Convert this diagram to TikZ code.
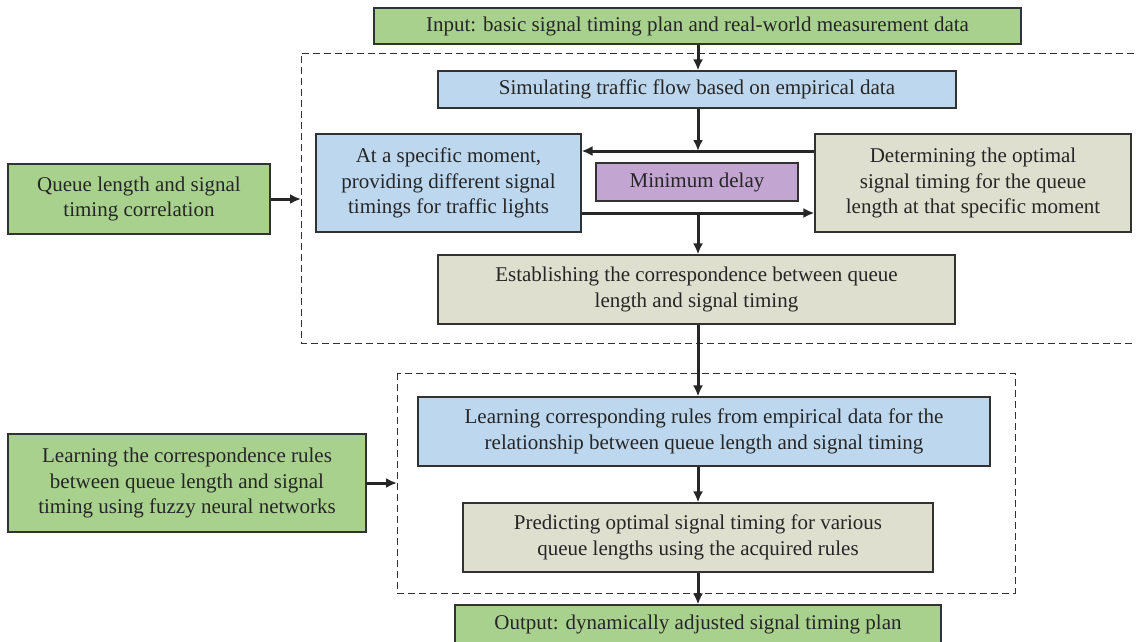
\documentclass[tikz,border=0pt]{standalone}
\usepackage{fontspec}
\setmainfont{Liberation Serif}
\usetikzlibrary{arrows.meta,positioning}
\definecolor{boxgreen}{RGB}{169,209,142}
\definecolor{boxblue}{RGB}{189,215,238}
\definecolor{boxgray}{RGB}{222,223,207}
\definecolor{boxpurple}{RGB}{194,165,209}
\definecolor{edgegray}{RGB}{50,50,50}

\begin{document}
\begin{tikzpicture}[x=1pt,y=-1pt,
		stepbox/.style={draw=edgegray, line width=1.1pt, align=center, inner sep=0pt,
			text=black!85, font=\fontsize{21}{25.5}\selectfont},
		greenbox/.style={stepbox, fill=boxgreen},
		bluebox/.style={stepbox, fill=boxblue},
		graybox/.style={stepbox, fill=boxgray},
		purplebox/.style={stepbox, fill=boxpurple},
		flow/.style={->, draw=black!85, line width=3pt},
		frame/.style={draw=edgegray, line width=1pt, dash pattern=on 7pt off 4pt},
		>={Latex[length=11pt,width=10pt]}]
	\useasboundingbox (0,0) rectangle (1136,641);
	% dashed groups
	\coordinate (frameA) at (301,53);
	\coordinate (frameB) at (397,373);
	\draw[frame] (1145,53) -- (frameA) -- (301,343) -- (1145,343);
	\draw[frame] (frameB) rectangle (1015,593);
	\coordinate (spine) at (698,0);
	% boxes
	\node[greenbox, minimum width=647pt, minimum height=36pt] (input) at (697.5,26)
		{Input: basic signal timing plan and real-world measurement data};
	\node[bluebox, minimum width=518pt, minimum height=37pt] (sim) at (697,89.5)
		{Simulating traffic flow based on empirical data};
	\node[bluebox, minimum width=265pt, minimum height=98pt] (moment) at (448.5,183)
		{At a specific moment,\\ providing different signal\\ timings for traffic lights};
	\node[purplebox, minimum width=202pt, minimum height=38pt] (mindelay) at (697,182)
		{Minimum delay};
	\node[graybox, minimum width=316pt, minimum height=98pt] (optimal) at (973,183)
		{Determining the optimal\\ signal timing for the queue\\ length at that specific moment};
	\node[graybox, minimum width=517pt, minimum height=69pt] (establish) at (696.5,289.5)
		{Establishing the correspondence between queue\\ length and signal timing};
	\node[greenbox, minimum width=262pt, minimum height=70pt] (corr) at (139,199)
		{Queue length and signal\\ timing correlation};
	\node[bluebox, minimum width=572pt, minimum height=69pt] (learn) at (704,431.5)
		{Learning corresponding rules from empirical data for the\\ relationship between queue length and signal timing};
	\node[graybox, minimum width=470pt, minimum height=69pt] (predict) at (698,537.5)
		{Predicting optimal signal timing for various\\ queue lengths using the acquired rules};
	\node[greenbox, minimum width=486pt, minimum height=38pt] (output) at (698,624)
		{Output: dynamically adjusted signal timing plan};
	\node[greenbox, minimum width=358pt, minimum height=98pt] (fuzzy) at (187,483)
		{Learning the correspondence rules\\ between queue length and signal\\ timing using fuzzy neural networks};
	% connectors
	\coordinate (upper) at (698,151);
	\coordinate (lower) at (698,213);
	\draw[flow] (spine |- input.south) -- (spine |- sim.north);
	\draw[flow] (spine |- sim.south) -- (upper);
	\draw[flow] (optimal.west |- upper) -- (moment.east |- upper);
	\draw[flow] (moment.east |- lower) -- (optimal.west |- lower);
	\draw[flow] (lower) -- (spine |- establish.north);
	\draw[flow] (spine |- establish.south) -- (spine |- learn.north);
	\draw[flow] (spine |- learn.south) -- (spine |- predict.north);
	\draw[flow] (spine |- predict.south) -- (spine |- output.north);
	\draw[flow] (corr.east) -- (corr.east -| frameA);
	\draw[flow] (fuzzy.east) -- (fuzzy.east -| frameB);
\end{tikzpicture}
\end{document}
